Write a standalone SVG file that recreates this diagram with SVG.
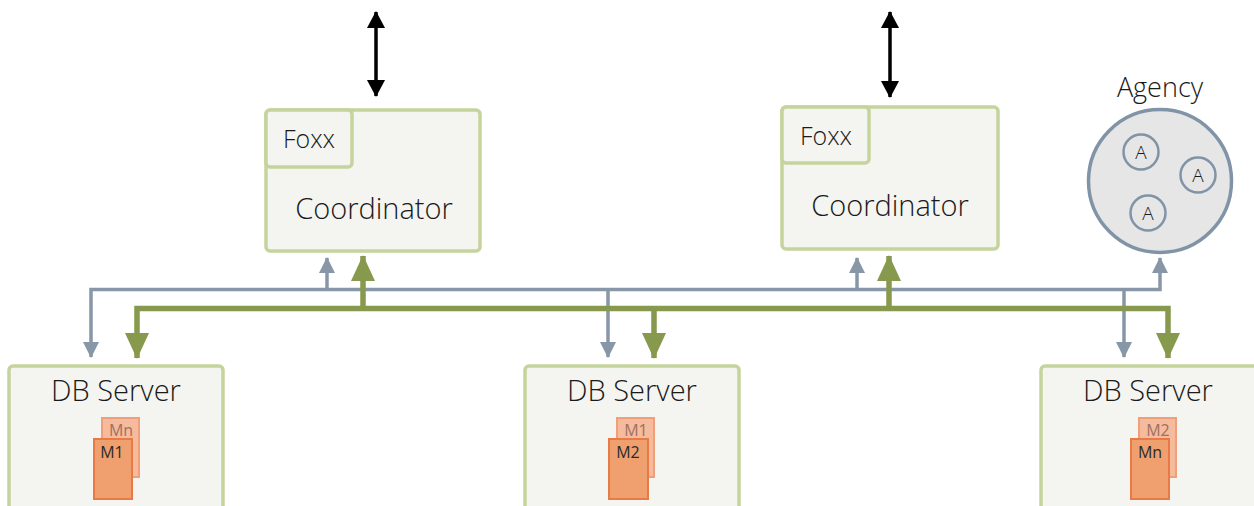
<svg xmlns="http://www.w3.org/2000/svg" width="1254" height="506" viewBox="0 0 1254 506">
<defs>
<style>
.box{fill:#f4f4f0;stroke:#c5d39c;stroke-width:3.5}
.t{font-family:"Open Sans","Liberation Sans",sans-serif;font-weight:300;fill:#1a1a1a}
.big{font-size:29px}
.foxx{font-size:25px}
.blue{stroke:#8797a8;stroke-width:3.5;fill:none}
.green{stroke:#86994d;stroke-width:5.5;fill:none}
.black{stroke:#000;stroke-width:3.5;fill:none}
.mb{fill:#f5bb9c;stroke:#f19f7a;stroke-width:2}
.mf{fill:#f0a06f;stroke:#e87a45;stroke-width:2}
.mtb{font-family:"Open Sans","Liberation Sans",sans-serif;font-size:16px;fill:#a07060}
.mtf{font-family:"Open Sans","Liberation Sans",sans-serif;font-size:16px;fill:#2a2a2a}
.ac{fill:#e6e6e6;stroke:#8194a7;stroke-width:3.5}
.aci{fill:#e6e6e6;stroke:#8194a7;stroke-width:2.5}
</style>
<marker id="hb" viewBox="0 0 16 16" refX="15" refY="8" markerWidth="16" markerHeight="16" markerUnits="userSpaceOnUse" orient="auto-start-reverse"><path d="M0,0 L16,8 L0,16 Z" fill="#8797a8"/></marker>
<marker id="hg" viewBox="0 0 26 24" refX="25" refY="12" markerWidth="26" markerHeight="24" markerUnits="userSpaceOnUse" orient="auto-start-reverse"><path d="M0,0 L26,12 L0,24 Z" fill="#86994d"/></marker>
<marker id="hk" viewBox="0 0 17 18" refX="16" refY="9" markerWidth="17" markerHeight="18" markerUnits="userSpaceOnUse" orient="auto-start-reverse"><path d="M0,0 L17,9 L0,18 Z" fill="#000"/></marker>
</defs>

<g id="coordinator1">
<rect class="box" x="266" y="110" width="214" height="141" rx="4"/>
<rect class="box" x="266" y="110" width="86" height="57" rx="4"/>
<text class="t foxx" x="309" y="148" text-anchor="middle">Foxx</text>
<text class="t big" x="374" y="219" text-anchor="middle">Coordinator</text>
</g>

<g id="coordinator2">
<rect class="box" x="782" y="107" width="216" height="142" rx="4"/>
<rect class="box" x="782" y="107" width="87" height="56" rx="4"/>
<text class="t foxx" x="826" y="145" text-anchor="middle">Foxx</text>
<text class="t big" x="890" y="216" text-anchor="middle">Coordinator</text>
</g>

<g id="agency">
<text class="t big" x="1160" y="97" text-anchor="middle" style="font-size:27px">Agency</text>
<circle class="ac" cx="1160" cy="181" r="71.5"/>
<circle class="aci" cx="1141" cy="152" r="17.5"/>
<text class="t" x="1141" y="159" text-anchor="middle" font-size="19">A</text>
<circle class="aci" cx="1198" cy="175" r="17.5"/>
<text class="t" x="1198" y="182" text-anchor="middle" font-size="19">A</text>
<circle class="aci" cx="1148" cy="213" r="17.5"/>
<text class="t" x="1148" y="220" text-anchor="middle" font-size="19">A</text>
</g>

<g id="dbserver1">
<rect class="box" x="9" y="366" width="214" height="160" rx="4"/>
<text class="t big" x="116" y="401" text-anchor="middle">DB Server</text>
<rect class="mb" x="102" y="418" width="37" height="59"/>
<text class="mtb" x="121" y="436" text-anchor="middle">Mn</text>
<rect class="mf" x="94" y="439" width="38" height="60"/>
<text class="mtf" x="112" y="458" text-anchor="middle">M1</text>
</g>

<g id="dbserver2">
<rect class="box" x="525" y="366" width="214" height="160" rx="4"/>
<text class="t big" x="632" y="401" text-anchor="middle">DB Server</text>
<rect class="mb" x="617" y="418" width="37" height="59"/>
<text class="mtb" x="636" y="436" text-anchor="middle">M1</text>
<rect class="mf" x="609" y="439" width="39" height="60"/>
<text class="mtf" x="628" y="458" text-anchor="middle">M2</text>
</g>

<g id="dbserver3">
<rect class="box" x="1041" y="366" width="230" height="160" rx="4"/>
<text class="t big" x="1148" y="401" text-anchor="middle">DB Server</text>
<rect class="mb" x="1139" y="418" width="37" height="59"/>
<text class="mtb" x="1158" y="436" text-anchor="middle">M2</text>
<rect class="mf" x="1131" y="439" width="38" height="60"/>
<text class="mtf" x="1150" y="458" text-anchor="middle">Mn</text>
</g>

<g id="connectors">
<line class="black" x1="376" y1="12" x2="376" y2="96" marker-start="url(#hk)" marker-end="url(#hk)"/>
<line class="black" x1="890" y1="12" x2="890" y2="97" marker-start="url(#hk)" marker-end="url(#hk)"/>
<path class="blue" d="M91,357 V289.5 H1160 V258" marker-start="url(#hb)" marker-end="url(#hb)"/>
<path class="blue" d="M327,289.5 V258" marker-end="url(#hb)"/>
<path class="blue" d="M857,289.5 V258" marker-end="url(#hb)"/>
<path class="blue" d="M608,289.5 V357" marker-end="url(#hb)"/>
<path class="blue" d="M1124,289.5 V357" marker-end="url(#hb)"/>
<path class="green" d="M137,358 V308.5 H1168 V358" marker-start="url(#hg)" marker-end="url(#hg)"/>
<path class="green" d="M363,308.5 V256" marker-end="url(#hg)"/>
<path class="green" d="M889,308.5 V256" marker-end="url(#hg)"/>
<path class="green" d="M654,308.5 V358" marker-end="url(#hg)"/>
</g>
</svg>
